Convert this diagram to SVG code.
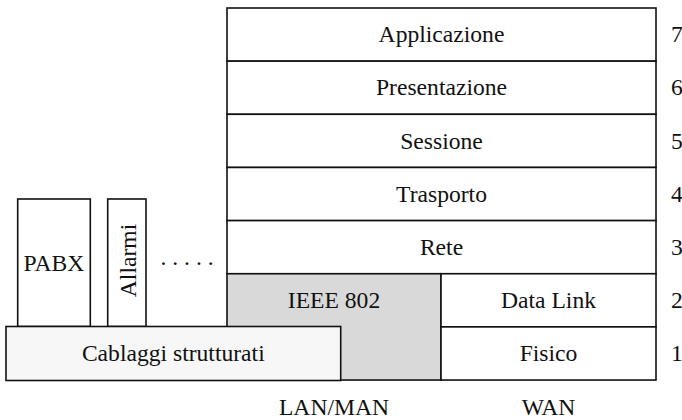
<svg xmlns="http://www.w3.org/2000/svg" width="682" height="420" viewBox="0 0 682 420">
<style>
.b{fill:#fff;stroke:#111;stroke-width:1.6}
.g{fill:#d9d9d9;stroke:#111;stroke-width:1.6}
.c{fill:#f7f7f7;stroke:#111;stroke-width:1.6}
text{font-family:"Liberation Serif","Times New Roman",serif;font-size:23.6px;fill:#111}
.m{text-anchor:middle}
</style>
<rect width="682" height="420" fill="#fff"/>
<g id="applicazione"><rect class="b" x="227" y="8" width="429" height="53.15"/><text class="m" x="441.5" y="42.2">Applicazione</text><text x="671" y="42.2">7</text></g>
<g id="presentazione"><rect class="b" x="227" y="61.15" width="429" height="53.15"/><text class="m" x="441.5" y="95.4">Presentazione</text><text x="671" y="95.4">6</text></g>
<g id="sessione"><rect class="b" x="227" y="114.3" width="429" height="53.15"/><text class="m" x="441.5" y="148.5">Sessione</text><text x="671" y="148.5">5</text></g>
<g id="trasporto"><rect class="b" x="227" y="167.45" width="429" height="53.15"/><text class="m" x="441.5" y="201.7">Trasporto</text><text x="671" y="201.7">4</text></g>
<g id="rete"><rect class="b" x="227" y="220.6" width="429" height="53.15"/><text class="m" x="441.5" y="254.8">Rete</text><text x="671" y="254.8">3</text></g>
<g id="ieee802"><rect class="g" x="227" y="273.75" width="214" height="106.3"/><text class="m" x="334" y="308">IEEE 802</text></g>
<g id="datalink"><rect class="b" x="441" y="273.75" width="215" height="53.15"/><text class="m" x="548.5" y="308">Data Link</text><text x="671" y="308">2</text></g>
<g id="fisico"><rect class="b" x="441" y="326.9" width="215" height="53.15"/><text class="m" x="548.5" y="361.2">Fisico</text><text x="671" y="361.2">1</text></g>
<g id="pabx"><rect class="b" x="17.7" y="199" width="72.6" height="127.5"/><text class="m" x="54" y="270.5">PABX</text></g>
<g id="allarmi"><rect class="b" x="107.7" y="199" width="38.3" height="127.5"/><text class="m" transform="translate(135.5,260.5) rotate(-90)">Allarmi</text></g>
<g id="dots"><text x="160.5" y="264.5" xml:space="preserve">. . . . .</text></g>
<g id="cablaggi"><rect class="c" x="6" y="326.5" width="334.7" height="54"/><text class="m" x="173.3" y="361.2">Cablaggi strutturati</text></g>
<g id="labels"><text class="m" x="334" y="415">LAN/MAN</text><text class="m" x="548.5" y="415">WAN</text></g>
<g id="connectors"></g>
</svg>
